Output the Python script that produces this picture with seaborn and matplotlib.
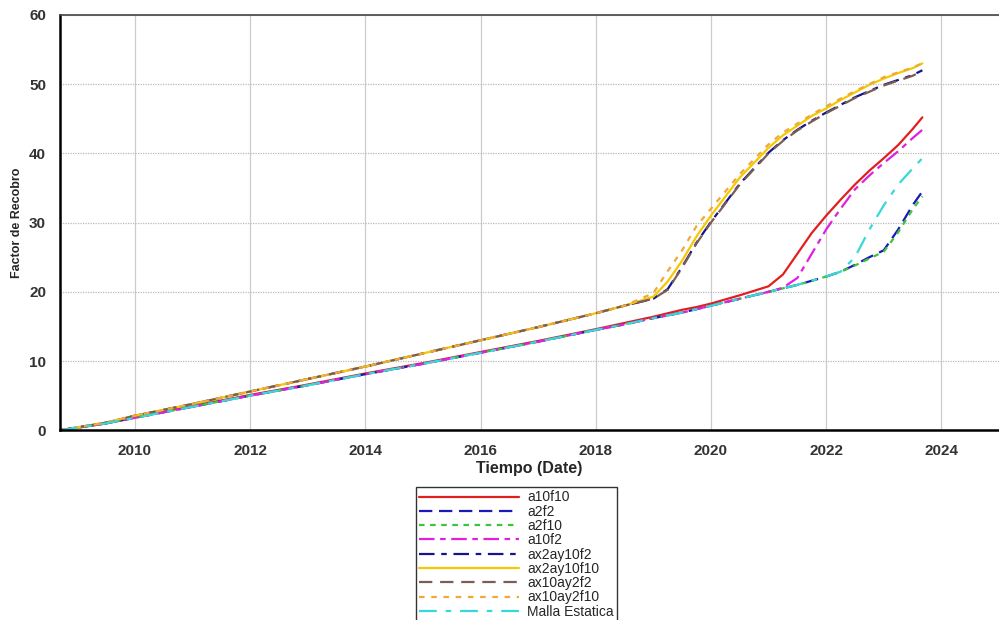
import pandas as pd
import matplotlib
matplotlib.use("Agg")
import matplotlib.pyplot as plt
import seaborn as sns

# time grid (fractional years)
years = [2008.7, 2009.5, 2010, 2011, 2012, 2013, 2014, 2015, 2016, 2017, 2018, 2018.5,
         2019, 2019.25, 2019.5, 2019.75, 2020, 2020.5, 2021, 2021.25, 2021.5, 2021.75,
         2022, 2022.25, 2022.5, 2022.75, 2023, 2023.25, 2023.5, 2023.67]

lower_base = [0, 1.0, 1.8, 3.4, 5.0, 6.5, 8.1, 9.6, 11.2, 12.8, 14.5, 15.3,
              16.2, 16.6, 17.0, 17.5, 18.0, 19.0, 20.0, 20.5, 21.0, 21.6]

a10f10 = [0, 1.0, 1.9, 3.5, 5.1, 6.6, 8.2, 9.7, 11.3, 12.9, 14.6, 15.5,
          16.4, 16.9, 17.4, 17.8, 18.3, 19.5, 20.8, 22.5, 25.5, 28.5,
          31.0, 33.3, 35.5, 37.5, 39.3, 41.2, 43.5, 45.2]
a2f2 = lower_base + [22.2, 22.9, 23.9, 25.0, 26.0, 29.0, 32.5, 34.5]
a2f10 = lower_base + [22.2, 22.9, 23.8, 24.8, 25.8, 28.6, 31.9, 33.8]
a10f2 = lower_base[:19] + [20.6, 22.0, 25.5, 29.0, 32.0, 34.8, 36.8, 38.6, 40.3, 42.2, 43.4]
malla = lower_base + [22.2, 22.9, 25.0, 29.0, 32.5, 35.5, 37.8, 39.3]

upper_base = [0, 1.1, 2.1, 3.8, 5.6, 7.4, 9.2, 11.1, 13.0, 14.9, 16.9, 18.0]
ax2ay10f10 = upper_base + [19.3, 21.5, 24.5, 28.0, 31.0, 36.5, 40.8, 42.6, 44.0, 45.4,
                           46.5, 47.7, 48.8, 49.9, 50.8, 51.6, 52.3, 53.0]
ax10ay2f10 = upper_base + [19.8, 23.0, 26.0, 29.5, 32.0, 37.0, 41.3, 43.0, 44.3, 45.6,
                           46.8, 47.9, 49.0, 50.0, 51.0, 51.7, 52.4, 53.0]
ax10ay2f2 = upper_base + [19.0, 20.3, 23.5, 27.0, 30.0, 35.5, 40.0, 41.8, 43.3, 44.6,
                          45.8, 46.9, 48.0, 48.9, 49.8, 50.5, 51.2, 51.9]
ax2ay10f2 = upper_base + [19.0, 20.4, 23.6, 27.1, 30.1, 35.6, 40.1, 41.9, 43.4, 44.7,
                          45.9, 47.0, 48.1, 49.0, 49.9, 50.6, 51.3, 52.0]

series = {
    "a10f10": a10f10,
    "a2f2": a2f2,
    "a2f10": a2f10,
    "a10f2": a10f2,
    "ax2ay10f2": ax2ay10f2,
    "ax2ay10f10": ax2ay10f10,
    "ax10ay2f2": ax10ay2f2,
    "ax10ay2f10": ax10ay2f10,
    "Malla Estatica": malla,
}

colors = {
    "a10f10": "#e0201e",
    "a2f2": "#1a1ab8",
    "a2f10": "#3cc43c",
    "a10f2": "#e020e0",
    "ax2ay10f2": "#14148c",
    "ax2ay10f10": "#f5c800",
    "ax10ay2f2": "#7a5e55",
    "ax10ay2f10": "#f0a838",
    "Malla Estatica": "#38d8d8",
}
dashes = {
    "a10f10": "",
    "a2f2": (6, 3),
    "a2f10": (2.5, 2.5),
    "a10f2": (7, 2.5, 2.5, 2.5),
    "ax2ay10f2": (7, 3, 2.5, 3),
    "ax2ay10f10": "",
    "ax10ay2f2": (6, 3.5),
    "ax10ay2f10": (2.5, 3),
    "Malla Estatica": (8, 4, 2.5, 4),
}

rows = []
for name, vals in series.items():
    for t, v in zip(years, vals):
        rows.append({"Tiempo": t, "FR": v, "Caso": name})
df = pd.DataFrame(rows)

sns.set_style("white")
plt.rcParams["font.family"] = ["Liberation Sans", "DejaVu Sans"]

fig = plt.figure(figsize=(9.99, 6.2), dpi=100)
ax = fig.add_axes([0.06, 0.306, 0.94, 0.67])

sns.lineplot(data=df, x="Tiempo", y="FR", hue="Caso", style="Caso",
             palette=colors, dashes=dashes, hue_order=list(series.keys()),
             style_order=list(series.keys()), estimator=None, sort=False,
             linewidth=1.6, ax=ax)

ax.set_xlim(2008.7, 2025.0)
ax.set_ylim(0, 60)
ax.set_xticks(range(2010, 2025, 2))
ax.set_yticks(range(0, 61, 10))
ax.grid(axis="x", color="#cccccc", linewidth=0.9)
ax.grid(axis="y", color="#bbbbbb", linewidth=0.9, linestyle=(0, (1, 1)))
ax.tick_params(axis="both", direction="out", length=7, width=1.6, color="black",
               labelsize=11, labelcolor="#333333", pad=3)
for lab in ax.get_xticklabels() + ax.get_yticklabels():
    lab.set_fontweight("bold")
for side in ["left", "bottom"]:
    ax.spines[side].set_color("black")
    ax.spines[side].set_linewidth(1.8)
ax.spines["top"].set_color("#444444")
ax.spines["top"].set_linewidth(1.2)
ax.spines["right"].set_visible(False)

ax.set_xlabel("Tiempo (Date)", fontsize=11.5, fontweight="bold", labelpad=2)
ax.set_ylabel("Factor de Recobro", fontsize=9, fontweight="bold")

handles, labels = ax.get_legend_handles_labels()
ax.get_legend().remove()
leg = fig.legend(handles, labels, loc="upper center", bbox_to_anchor=(0.517, 0.2145),
                 ncol=1, fontsize=10, frameon=True, fancybox=False, handlelength=7.2,
                 labelspacing=0.02, borderpad=0.25, handletextpad=0.6, borderaxespad=0)
leg.get_frame().set_edgecolor("black")
leg.get_frame().set_linewidth(1.0)

fig.savefig("out.png", dpi=100)
